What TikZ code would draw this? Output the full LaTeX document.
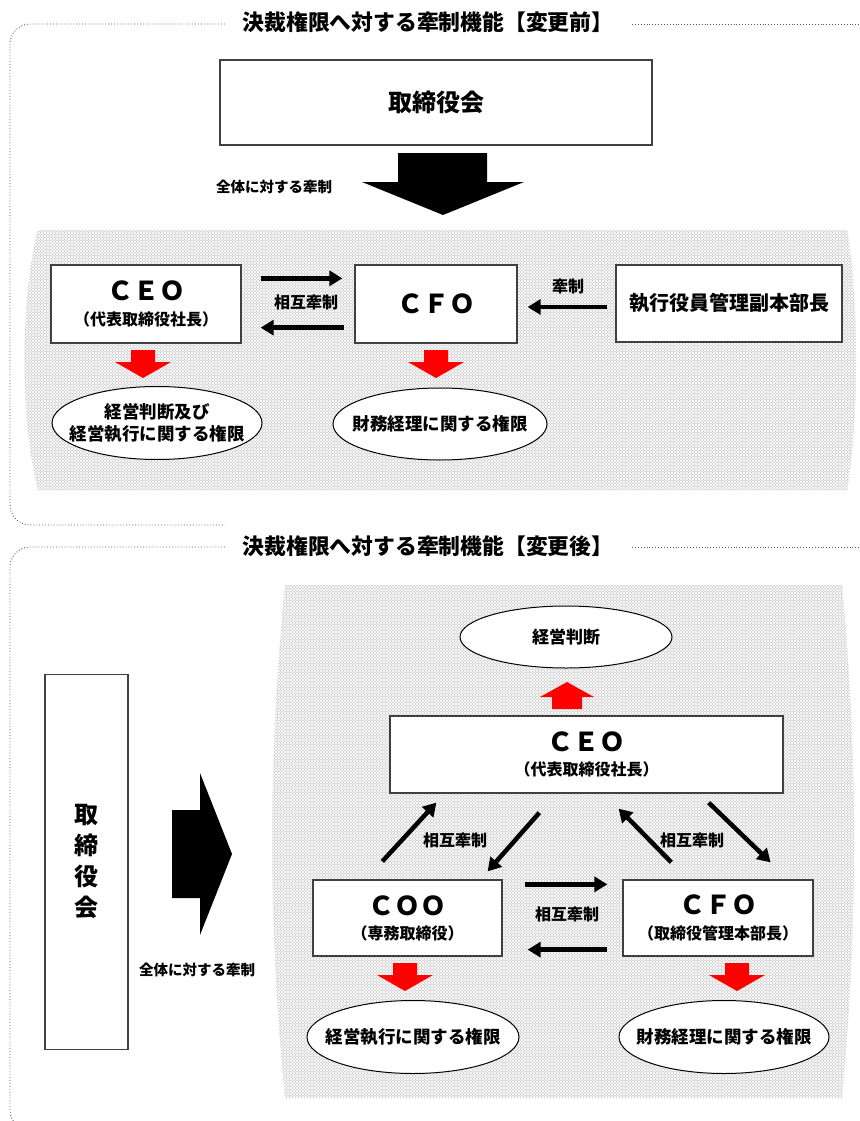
\documentclass[tikz,border=0pt]{standalone}
\usepackage{fontspec}
\setmainfont{Noto Sans CJK JP}
\usetikzlibrary{arrows.meta,shapes.geometric,patterns,calc}
\newcommand{\fsz}[1]{\fontsize{#1}{#1}\selectfont\bfseries}
\begin{document}
\begin{tikzpicture}[x=1pt,y=-1pt,
  frame/.style={draw=black!65,dotted,line width=0.9pt,rounded corners=20pt},
  hatch/.style={fill=gray!38,postaction={pattern=north east lines,pattern color=white},postaction={pattern=north west lines,pattern color=white}},
  box/.style={draw=black!75,line width=1.3pt,fill=white,rectangle,inner sep=0pt,align=center},
  ell/.style={ellipse,draw=black,line width=1pt,fill=white,inner sep=0pt},
  etxt/.style={inner sep=0pt,align=center,font=\fsz{17.5}},
  conn/.style={line width=4.5pt,-{Triangle[length=13pt,width=15pt]}},
  lbl/.style={inner sep=0pt,font=\fsz{16}},
  big/.style={fill=black},
  redarr/.style={fill=red}]
\useasboundingbox (0,0) rectangle (859,1121);
% frames
\draw[frame] (225,24) -- (10,24) -- (10,525) -- (225,525);
\draw[frame] (632,24) -- (870,24);
\draw[frame] (225,547) -- (10,547) -- (10,1130) -- (225,1130);
\draw[frame] (632,547) -- (870,547);
\node[inner sep=0pt,font=\fsz{21.8}] (t1) at (428,22) {決裁権限へ対する牽制機能【変更前】};
\node[inner sep=0pt,font=\fsz{21.8}] (t2) at (428,546) {決裁権限へ対する牽制機能【変更後】};
% hatched areas
\path[hatch] (38,230) -- (847,230) .. controls (859,300) and (859,420) .. (847,490) -- (38,490) .. controls (20,420) and (20,300) .. (38,230);
\path[hatch] (285,585) -- (842,585) .. controls (858,760) and (858,920) .. (842,1098) -- (285,1098) .. controls (268,920) and (268,760) .. (285,585);
% ===== top =====
\node[box,minimum width=432pt,minimum height=85pt,font=\fsz{24}] (board1) at (436,102.5) {取締役会};
\path[big] (398,153) -- (487,153) -- (487,182) -- (524,182) -- (443,215) -- (362,182) -- (398,182) -- cycle;
\node[inner sep=0pt,font=\fsz{14.5}] (all1) at (274,187) {全体に対する牽制};
\node[box,minimum width=190pt,minimum height=78pt] (ceo1) at (146,304) {{\fsz{26}ＣＥＯ}\\[9pt]{\fsz{16}（代表取締役社長）}};
\node[box,minimum width=162pt,minimum height=78pt,font=\fsz{26}] (cfo1) at (436,304) {ＣＦＯ};
\node[box,minimum width=226pt,minimum height=77pt,font=\fsz{20}] (exec) at (729,303.5) {執行役員管理副本部長};
\draw[conn] ($(ceo1.north east)+(19,14)$) -- ($(cfo1.north west)+(-12,14)$);
\draw[conn] ($(cfo1.south west)+(-10,-16)$) -- ($(ceo1.south east)+(19,-16)$);
\node[lbl] (m1) at (306,302) {相互牽制};
\draw[conn] ($(exec.west)+(-8,3.5)$) -- ($(cfo1.east)+(10,3)$);
\node[lbl] (m2) at (568,286) {牽制};
\path[redarr] (131,350) -- (155,350) -- (155,362) -- (171,362) -- (143,378) -- (115,362) -- (131,362) -- cycle;
\path[redarr] (424,350) -- (448,350) -- (448,362) -- (464,362) -- (436,378) -- (408,362) -- (424,362) -- cycle;
\node[ell,minimum width=210pt,minimum height=73pt] (e1) at (157,423) {};
\node[etxt] (e1t) at (e1.center) {経営判断及び\\[4pt]経営執行に関する権限};
\node[ell,minimum width=214pt,minimum height=72pt] (e2) at (440,424) {};
\node[etxt] (e2t) at (e2.center) {財務経理に関する権限};
% ===== bottom =====
\node[box,minimum width=83pt,minimum height=375pt,font=\fsz{24}] (board2) at (86.5,862) {取\\[7pt]締\\[7pt]役\\[7pt]会};
\path[big] (172,810) -- (200,810) -- (200,773) -- (232,854) -- (200,935) -- (200,898) -- (172,898) -- cycle;
\node[inner sep=0pt,font=\fsz{14.5}] (all2) at (197,970) {全体に対する牽制};
\node[ell,minimum width=212pt,minimum height=62pt] (e3) at (566,637) {};
\node[etxt,font=\fsz{17}] (e3t) at (e3.center) {経営判断};
\path[redarr] (552,709) -- (582,709) -- (582,697) -- (594,697) -- (567,682) -- (540,697) -- (552,697) -- cycle;
\node[box,minimum width=393pt,minimum height=77pt] (ceo2) at (586.5,754.5) {{\fsz{26}ＣＥＯ}\\[9pt]{\fsz{16}（代表取締役社長）}};
\node[box,minimum width=189pt,minimum height=76pt] (coo) at (407.5,918) {{\fsz{26}ＣＯＯ}\\[9pt]{\fsz{16}（専務取締役）}};
\node[box,minimum width=190pt,minimum height=76pt] (cfo2) at (718,918) {{\fsz{26}ＣＦＯ}\\[9pt]{\fsz{16}（取締役管理本部長）}};
\draw[conn] ($(coo.north west)+(70,-18)$) -- ($(ceo2.south west)+(47,9)$);
\draw[conn] ($(ceo2.south west)+(150,19)$) -- ($(coo.north east)+(-15,-8)$);
\node[lbl] (m3) at (455,840) {相互牽制};
\draw[conn] ($(cfo2.north west)+(49,-17)$) -- ($(ceo2.south east)+(-165,15)$);
\draw[conn] ($(ceo2.south east)+(-75,9)$) -- ($(cfo2.north east)+(-43,-17)$);
\node[lbl] (m4) at (692,840) {相互牽制};
\draw[conn] ($(coo.north east)+(22,5)$) -- ($(cfo2.north west)+(-15,5)$);
\draw[conn] ($(cfo2.south west)+(-15,-7)$) -- ($(coo.south east)+(25,-7)$);
\node[lbl] (m5) at (567,914) {相互牽制};
\path[redarr] (393,963) -- (417,963) -- (417,975) -- (433,975) -- (405,991) -- (377,975) -- (393,975) -- cycle;
\path[redarr] (725,963) -- (749,963) -- (749,975) -- (765,975) -- (737,991) -- (709,975) -- (725,975) -- cycle;
\node[ell,minimum width=212pt,minimum height=73pt] (e4) at (413,1037) {};
\node[etxt] (e4t) at (e4.center) {経営執行に関する権限};
\node[ell,minimum width=210pt,minimum height=73pt] (e5) at (724,1037) {};
\node[etxt] (e5t) at (e5.center) {財務経理に関する権限};
\end{tikzpicture}
\end{document}
